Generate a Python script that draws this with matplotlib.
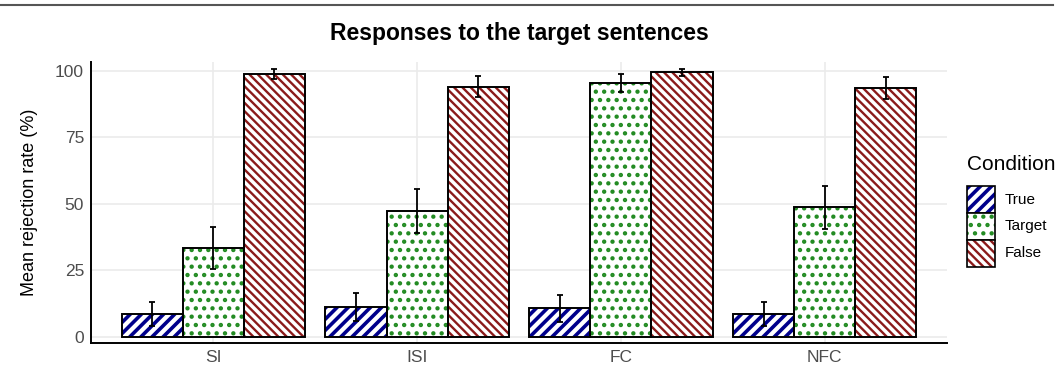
import matplotlib
matplotlib.use("Agg")
import matplotlib.pyplot as plt
from matplotlib.patches import Rectangle
from matplotlib.lines import Line2D
import numpy as np

plt.rcParams['font.family'] = ['Liberation Sans', 'DejaVu Sans']

# 実験条件ごとの平均拒否率と誤差
categories = ["SI", "ISI", "FC", "NFC"]
conditions = ["True", "Target", "False"]
true_mean = [8.5, 11.2, 10.7, 8.6]
true_err = [4.6, 5.2, 5.1, 4.6]
target_mean = [33.3, 47.3, 95.3, 48.6]
target_err = [7.8, 8.2, 3.4, 8.2]
false_mean = [98.8, 94.0, 99.4, 93.4]
false_err = [1.8, 4.0, 1.2, 4.1]
yticks = [0, 25, 50, 75, 100]

means = [true_mean, target_mean, false_mean]
errs = [true_err, target_err, false_err]

# 条件ごとの模様（色, ハッチ, 線幅）
styles = {
    "True": ("#00008B", "///", 2.6),
    "Target": ("#228B22", "..", 1.9),
    "False": ("#8B1A1A", "\\\\\\\\", 1.7),
}

W, H = 1063, 369
fig = plt.figure(figsize=(W / 100, H / 100), dpi=100)
ax = fig.add_axes([91 / W, 1 - 343 / H, (947 - 91) / W, (343 - 62) / H])


def hatched_bar(axis, x, h, width, cond):
    color, hatch, lw = styles[cond]
    with plt.rc_context({'hatch.linewidth': lw}):
        bars = axis.bar(x, h, width, color="white", edgecolor=color,
                        hatch=hatch, linewidth=0, zorder=2)
    for b in bars:
        if hasattr(b, "set_hatch_linewidth"):
            b.set_hatch_linewidth(lw)
    axis.bar(x, h, width, fill=False, edgecolor="black", linewidth=1.4, zorder=3)


x = np.arange(1, len(categories) + 1)
bw = 0.3
for i, cond in enumerate(conditions):
    pos = x + (i - 1) * bw
    hatched_bar(ax, pos, means[i], bw, cond)
    ax.errorbar(pos, means[i], yerr=errs[i], fmt="none", ecolor="black",
                elinewidth=1.3, capsize=2.5, capthick=1.3, zorder=4)

ax.set_xlim(0.4, 4.6)
ax.set_ylim(-2.4, 103.3)
ax.set_xticks(x)
ax.set_xticklabels(categories)
ax.set_yticks(yticks)
ax.tick_params(length=0, labelsize=12.5, colors="#4D4D4D", pad=5)
ax.grid(True, color="#EBEBEB", linewidth=1.2, zorder=0)
ax.set_axisbelow(True)
for s in ["top", "right"]:
    ax.spines[s].set_visible(False)
for s in ["left", "bottom"]:
    ax.spines[s].set_linewidth(1.4)
    ax.spines[s].set_color("black")
ax.set_ylabel("Mean rejection rate (%)", fontsize=13, labelpad=12)

fig.text(519 / W, 1 - 40 / H, "Responses to the target sentences",
         ha="center", va="baseline", fontsize=16.5, fontweight="bold")

# 凡例（手描き）
lax = fig.add_axes([967 / W, 1 - 266.5 / H, 27.5 / W, 80.5 / H])
lax.set_xlim(0, 1)
lax.set_ylim(0, 3)
lax.axis("off")
for i, cond in enumerate(conditions):
    color, hatch, lw = styles[cond]
    y0 = 2 - i
    with plt.rc_context({'hatch.linewidth': lw}):
        r = Rectangle((0, y0), 1, 1, facecolor="white", edgecolor=color,
                      hatch=hatch, linewidth=0)
    if hasattr(r, "set_hatch_linewidth"):
        r.set_hatch_linewidth(lw)
    lax.add_patch(r)
    lax.add_patch(Rectangle((0, y0), 1, 1, fill=False, edgecolor="black",
                            linewidth=1.2, clip_on=False))
    fig.text(1005 / W, 1 - (199.5 + 26.7 * i) / H, cond,
             ha="left", va="center", fontsize=11)
fig.text(967 / W, 1 - 164 / H, "Condition", ha="left", va="center", fontsize=15)

# 上端の区切り線
fig.add_artist(Line2D([0, 1053 / W], [1 - 5 / H, 1 - 5 / H], color="#555555",
                      linewidth=1.5, transform=fig.transFigure))

fig.savefig("out.png", dpi=100)
